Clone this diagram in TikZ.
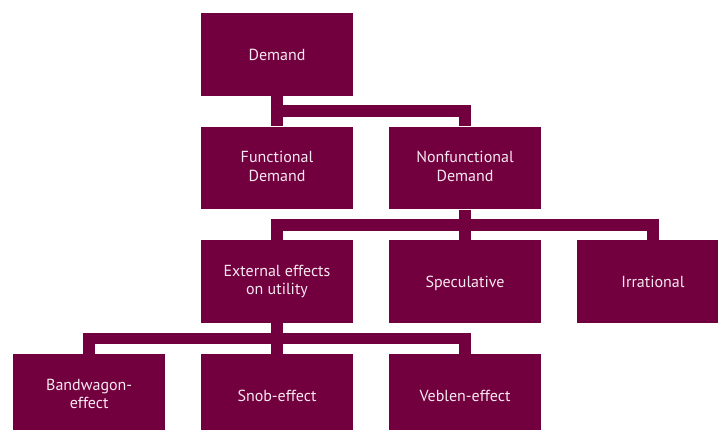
\documentclass[tikz,border=0pt]{standalone}
\usepackage{fontspec}
\setmainfont{PT Sans}
\usetikzlibrary{calc}
\definecolor{boxc}{RGB}{115,0,62}
\definecolor{txtc}{RGB}{246,232,240}
\tikzset{
  box/.style={fill=boxc, minimum width=152pt, minimum height=82.7pt, inner sep=0pt,
    text=txtc, align=center, font=\fontsize{16pt}{18.7pt}\selectfont,
    execute at begin node={\rule{0pt}{15.5pt}}, execute at end node={\rule[-3.4pt]{0pt}{3.4pt}}},
  conn/.style={draw=boxc, line width=11.5pt, line join=miter, line cap=butt}
}
\begin{document}
\begin{tikzpicture}[x=1pt,y=-1pt]
\useasboundingbox (0,0) rectangle (718,430);
\clip (0,0) rectangle (718,430);
% nodes
\node[box] (dem)  at (277,54.3)  {Demand};
\node[box] (fun)  at (277,168)   {Functional\\Demand};
\node[box] (nonf) at (465,168)   {Nonfunctional\\Demand};
\node[box] (ext)  at (277,281.7) {External effects\\on utility};
\node[box] (spec) at (465,281.7) {Speculative};
\node[box] (irr)  at (653,281.7) {Irrational};
\node[box] (band) at (89.2,395.4) {Bandwagon-\\effect};
\node[box] (snob) at (277,395.4) {Snob-effect};
\node[box] (veb)  at (465,395.4) {Veblen-effect};
% junctions
\coordinate (j1) at ($(dem.south)!0.5!(fun.north)$);
\coordinate (j2) at ($(nonf.south)!0.5!(spec.north)$);
\coordinate (j3) at ($(ext.south)!0.5!(snob.north)$);
% connectors
\draw[conn] (dem.south) -- (fun.north);
\draw[conn] (j1) -| (nonf.north);
\draw[conn] (nonf.south) -- (spec.north);
\draw[conn] (ext.north) |- (j2) -| (irr.north);
\draw[conn] (ext.south) -- (snob.north);
\draw[conn] (band.north) |- (j3) -| (veb.north);
\end{tikzpicture}
\end{document}
